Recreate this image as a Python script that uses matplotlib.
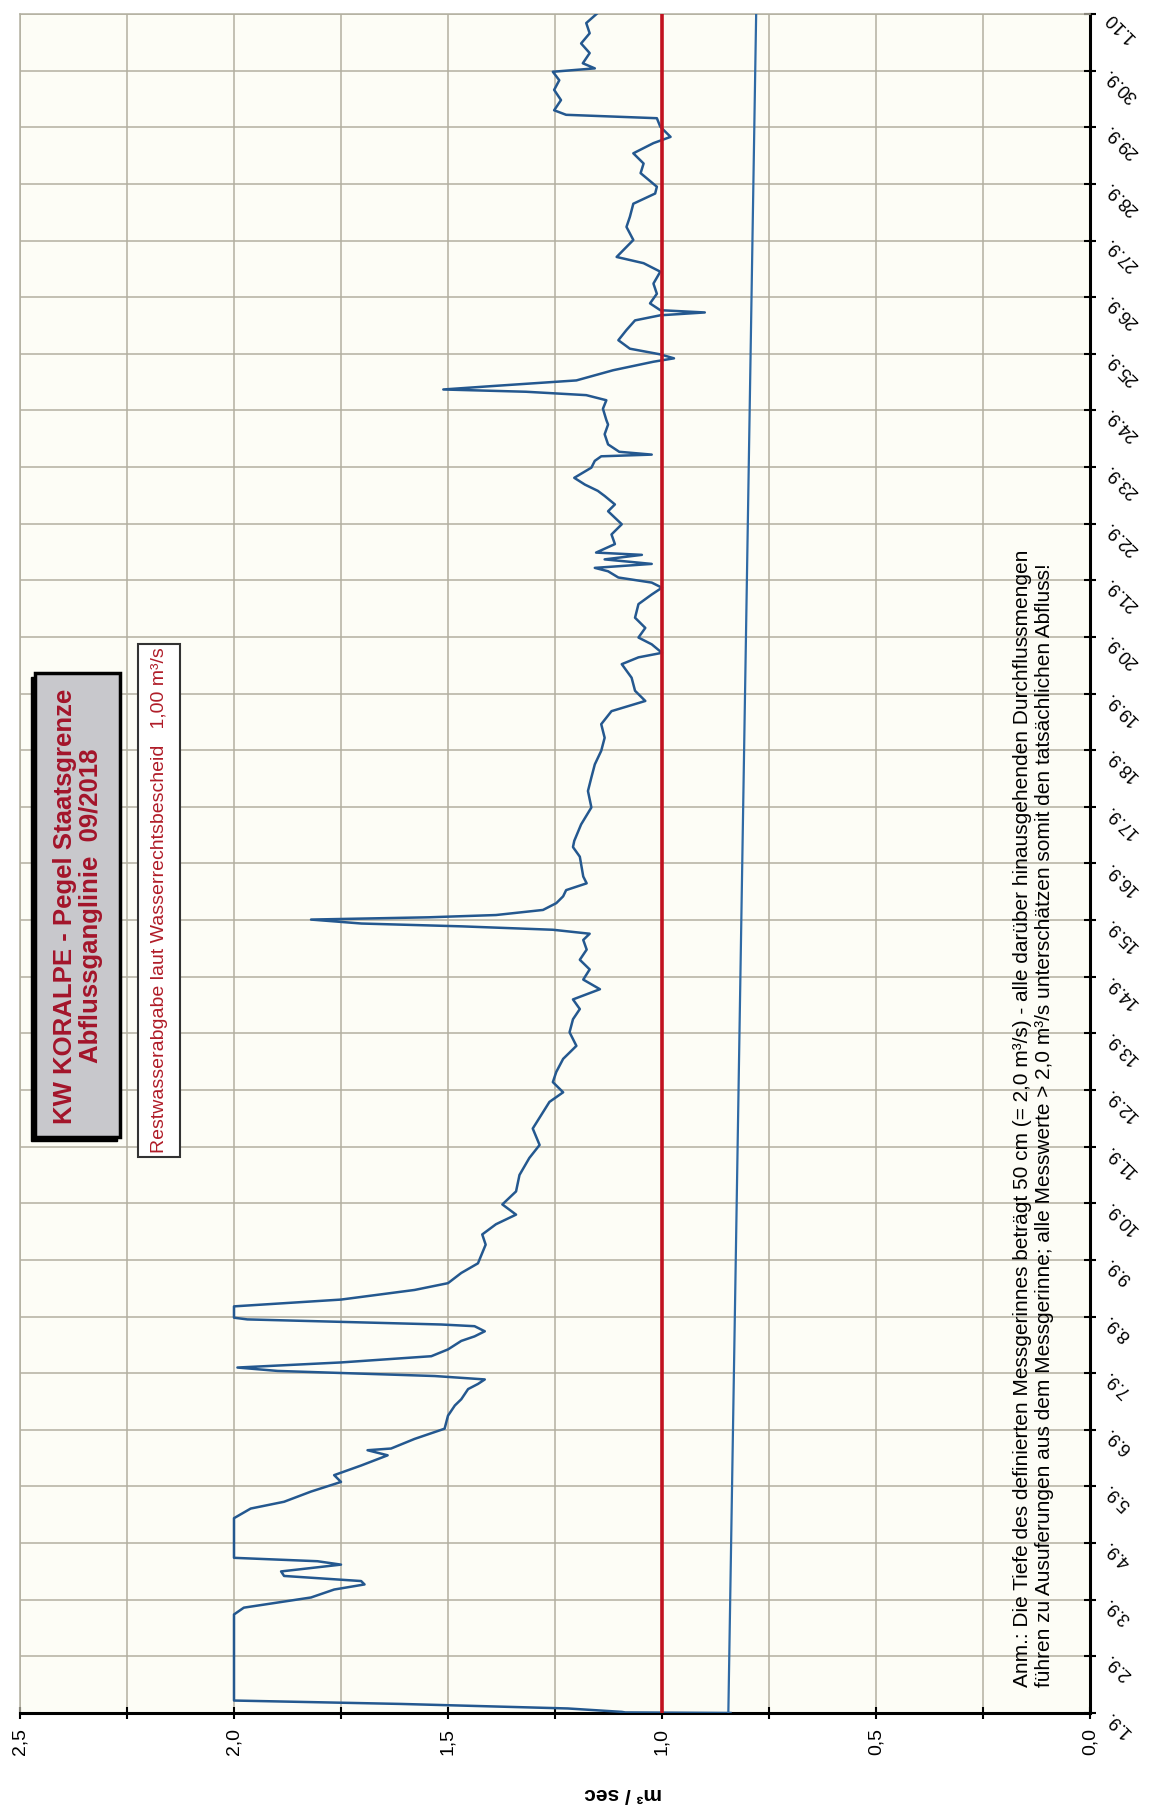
import matplotlib
matplotlib.use('Agg')
import matplotlib.pyplot as plt
from matplotlib.patches import Rectangle

plt.rcParams['font.family'] = ['Liberation Sans', 'DejaVu Sans']

# Zeit in Tagen ab 1.9. (0 = 1.9., 30 = 1.10.), Abfluss in m³/s
tage = [0.0, 0.01, 0.02, 0.08, 0.16, 0.22, 1.74, 1.86, 2.04, 2.18,
        2.27, 2.33, 2.42, 2.50, 2.62, 2.68, 2.74, 3.44, 3.61, 3.73,
        3.91, 4.08, 4.20, 4.37, 4.55, 4.64, 4.67, 4.84, 5.02, 5.25,
        5.43, 5.54, 5.72, 5.81, 5.89, 5.95, 6.04, 6.10, 6.19, 6.30,
        6.42, 6.57, 6.65, 6.74, 6.83, 6.86, 6.95, 6.98, 7.18, 7.30,
        7.47, 7.59, 7.77, 7.94, 8.27, 8.45, 8.63, 8.80, 8.98, 9.21,
        9.50, 9.80, 10.03, 10.32, 10.61, 10.79, 10.96, 11.14, 11.32, 11.55,
        11.78, 12.02, 12.25, 12.43, 12.60, 12.78, 12.95, 13.13, 13.30, 13.48,
        13.65, 13.76, 13.83, 13.89, 13.94, 14.01, 14.05, 14.09, 14.18, 14.30,
        14.42, 14.53, 14.65, 14.77, 14.94, 15.12, 15.29, 15.40, 15.69, 15.99,
        16.28, 16.52, 16.75, 16.99, 17.22, 17.46, 17.69, 17.87, 18.05, 18.28,
        18.52, 18.64, 18.72, 18.87, 18.99, 19.16, 19.34, 19.58, 19.75, 19.87,
        19.96, 20.05, 20.16, 20.22, 20.29, 20.37, 20.45, 20.49, 20.64, 20.81,
        20.99, 21.22, 21.34, 21.49, 21.58, 21.69, 21.81, 21.99, 22.11, 22.19,
        22.22, 22.27, 22.40, 22.58, 22.75, 22.83, 23.03, 23.18, 23.27, 23.33,
        23.37, 23.43, 23.53, 23.71, 23.86, 23.92, 23.99, 24.09, 24.24, 24.42,
        24.59, 24.68, 24.73, 24.77, 24.89, 25.06, 25.24, 25.45, 25.60, 25.71,
        26.01, 26.24, 26.42, 26.65, 26.83, 26.95, 27.19, 27.36, 27.54, 27.72,
        27.83, 28.01, 28.16, 28.22, 28.30, 28.48, 28.66, 28.83, 28.98, 29.04,
        29.13, 29.31, 29.48, 29.66, 29.84, 30.0]
abfluss = [0.84, 1.086, 1.094, 1.22, 1.61, 2.0, 2.0, 1.977, 1.82, 1.766,
           1.695, 1.703, 1.883, 1.89, 1.75, 1.805, 2.0, 2.0, 1.961, 1.883,
           1.82, 1.75, 1.766, 1.703, 1.641, 1.688, 1.633, 1.578, 1.508, 1.50,
           1.484, 1.469, 1.453, 1.43, 1.414, 1.531, 1.898, 1.992, 1.75, 1.539,
           1.50, 1.469, 1.438, 1.414, 1.438, 1.516, 1.969, 2.0, 2.0, 1.75,
           1.578, 1.50, 1.469, 1.43, 1.412, 1.42, 1.388, 1.341, 1.373, 1.341,
           1.333, 1.31, 1.286, 1.302, 1.278, 1.263, 1.231, 1.255, 1.247, 1.231,
           1.20, 1.216, 1.208, 1.192, 1.208, 1.145, 1.184, 1.169, 1.192, 1.176,
           1.184, 1.169, 1.255, 1.467, 1.702, 1.82, 1.545, 1.388, 1.278, 1.247,
           1.231, 1.224, 1.176, 1.184, 1.188, 1.192, 1.208, 1.205, 1.189, 1.165,
           1.173, 1.165, 1.157, 1.142, 1.134, 1.142, 1.118, 1.039, 1.063, 1.071,
           1.094, 1.055, 1.0, 1.024, 1.055, 1.039, 1.063, 1.055, 1.024, 1.0,
           1.024, 1.102, 1.126, 1.157, 1.024, 1.134, 1.047, 1.154, 1.11, 1.118,
           1.094, 1.126, 1.11, 1.134, 1.15, 1.18, 1.205, 1.165, 1.157, 1.142,
           1.024, 1.10, 1.126, 1.134, 1.126, 1.13, 1.138, 1.13, 1.177, 1.318,
           1.511, 1.397, 1.20, 1.114, 1.02, 0.972, 1.004, 1.075, 1.102, 1.083,
           1.063, 1.004, 0.90, 1.004, 1.028, 1.012, 1.02, 1.004, 1.043, 1.106,
           1.067, 1.083, 1.075, 1.067, 1.016, 1.012, 1.05, 1.043, 1.067, 1.02,
           0.98, 1.004, 1.012, 1.224, 1.252, 1.236, 1.252, 1.24, 1.255, 1.157,
           1.185, 1.169, 1.189, 1.169, 1.177, 1.153]

# Restwasserabgabe laut Bescheid
rw_tage = [0, 30]
rw_abfluss = [1.0, 1.0]

# zweite (gerade) Linie
linie_tage = [0, 30]
linie_abfluss = [0.845, 0.78]

datum_labels = ['%d.9.' % d for d in range(1, 31)] + ['1.10']
abfluss_ticks = [0.0, 0.5, 1.0, 1.5, 2.0, 2.5]
abfluss_labels = ['0,0', '0,5', '1,0', '1,5', '2,0', '2,5']

W, H = 1161, 1810


def fx(x):
    return x / W


def fy(y):
    return 1 - y / H


fig = plt.figure(figsize=(W / 100, H / 100), dpi=100)
ax = fig.add_axes([fx(20), fy(1713), (1090 - 20) / W, (1713 - 14) / H])
ax.set_facecolor('#fdfdf6')

ax.plot(abfluss, tage, color='#24588f', lw=1.8, zorder=3)
ax.plot(linie_abfluss, linie_tage, color='#2f6aa5', lw=1.6, zorder=3)
ax.plot(rw_abfluss, rw_tage, color='#c1121f', lw=2.6, zorder=4)

ax.set_xlim(2.5, 0)
ax.set_ylim(0, 30)

ax.set_xticks(abfluss_ticks)
ax.set_xticklabels(abfluss_labels, rotation=90, fontsize=14)
ax.set_xticks([0.25, 0.75, 1.25, 1.75, 2.25], minor=True)

ax.yaxis.tick_right()
ax.set_yticks(range(31))
ax.set_yticklabels(datum_labels, rotation=135, ha='right', va='center',
                   rotation_mode='anchor', fontsize=13)

ax.grid(True, which='both', color='#b3b0a0', lw=1.1)
ax.set_axisbelow(True)
ax.tick_params(axis='y', direction='inout', length=9, width=1.5, pad=8)
ax.tick_params(axis='x', which='both', direction='inout', length=9, width=1.5, pad=6)

for s in ['bottom', 'right']:
    ax.spines[s].set_color('black')
    ax.spines[s].set_linewidth(2.2)
for s in ['top', 'left']:
    ax.spines[s].set_color('#b3b0a0')
    ax.spines[s].set_linewidth(1.1)

# Titelkasten
fig.add_artist(Rectangle((fx(31), fy(1141)), (117 - 31) / W, (1141 - 677) / H,
                         transform=fig.transFigure, facecolor='black',
                         edgecolor='black', zorder=5))
fig.add_artist(Rectangle((fx(35), fy(1137)), (120 - 35) / W, (1137 - 673) / H,
                         transform=fig.transFigure, facecolor='#c8c8cc',
                         edgecolor='black', lw=2.5, zorder=6))
fig.text(fx(78), fy(906), 'KW KORALPE - Pegel Staatsgrenze\nAbflussganglinie  09/2018',
         rotation=90, ha='center', va='center', multialignment='center',
         fontsize=18.5, fontweight='bold', color='#a3142a', linespacing=1.15, zorder=7)

# Restwasser-Kasten
fig.add_artist(Rectangle((fx(138), fy(1157)), (180 - 138) / W, (1157 - 644) / H,
                         transform=fig.transFigure, facecolor='white',
                         edgecolor='#333333', lw=1.5, zorder=5))
fig.text(fx(160), fy(900), 'Restwasserabgabe laut Wasserrechtsbescheid   1,00 m³/s',
         rotation=90, ha='center', va='center', fontsize=14, color='#b01c28', zorder=7)

# Anmerkung
fig.text(fx(1034), fy(1687),
         'Anm.: Die Tiefe des definierten Messgerinnes beträgt 50 cm (= 2,0 m³/s) - '
         'alle darüber hinausgehenden Durchflussmengen\n'
         'führen zu Ausuferungen aus dem Messgerinne; alle Messwerte > 2,0 m³/s '
         'unterschätzen somit den tatsächlichen Abfluss!',
         rotation=90, ha='center', va='bottom', multialignment='left',
         fontsize=15, family=['Liberation Sans Narrow', 'Liberation Sans'],
         linespacing=1.2, zorder=7)

fig.text(fx(623), fy(1793), 'm³ / sec', rotation=180, ha='center', va='center',
         fontsize=15, fontweight='bold')

fig.savefig('out.png', dpi=100, facecolor='white')
